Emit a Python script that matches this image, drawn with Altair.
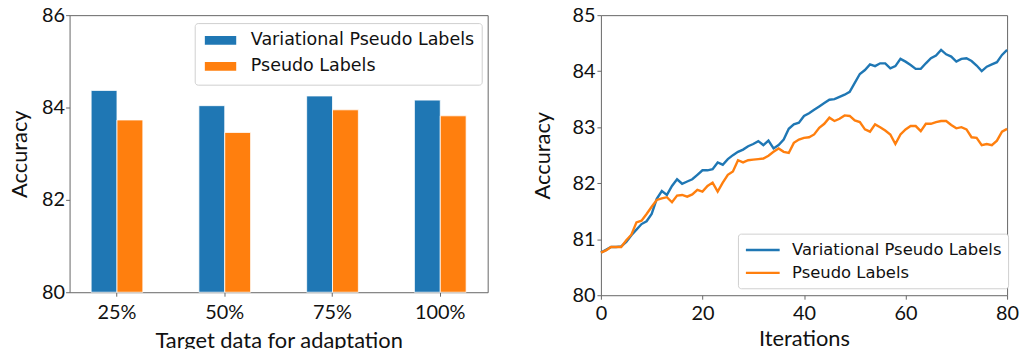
import altair as alt
import pandas as pd

# ---------------- data ----------------
series = ["Variational Pseudo Labels", "Pseudo Labels"]
colors = ["#1f77b4", "#ff7f0e"]

cats = ["25%", "50%", "75%", "100%"]
bar_vpl = [84.37, 84.04, 84.25, 84.16]
bar_pl = [83.73, 83.46, 83.95, 83.82]

iters = list(range(0, 81))
line_vpl = [80.76, 80.81, 80.86, 80.86, 80.87, 80.95, 81.07, 81.17, 81.27, 81.32,
            81.45, 81.72, 81.86, 81.79, 81.95, 82.07, 81.99, 82.03, 82.07, 82.15,
            82.23, 82.23, 82.25, 82.37, 82.33, 82.43, 82.50, 82.56, 82.60, 82.66,
            82.70, 82.75, 82.68, 82.76, 82.62, 82.68, 82.78, 82.97, 83.05, 83.08,
            83.20, 83.25, 83.31, 83.37, 83.43, 83.49, 83.50, 83.54, 83.58, 83.63,
            83.79, 83.95, 84.02, 84.12, 84.09, 84.14, 84.14, 84.05, 84.09, 84.22,
            84.17, 84.11, 84.04, 84.04, 84.14, 84.23, 84.28, 84.38, 84.30, 84.26,
            84.17, 84.22, 84.23, 84.18, 84.10, 84.00, 84.08, 84.12, 84.16, 84.29,
            84.38]
line_pl = [80.76, 80.80, 80.86, 80.86, 80.86, 80.98, 81.08, 81.30, 81.33, 81.45,
           81.58, 81.70, 81.73, 81.75, 81.66, 81.78, 81.79, 81.76, 81.80, 81.88,
           81.85, 81.95, 82.01, 81.85, 82.01, 82.15, 82.21, 82.41, 82.37, 82.41,
           82.42, 82.43, 82.44, 82.49, 82.56, 82.62, 82.56, 82.54, 82.72, 82.78,
           82.81, 82.82, 82.87, 82.99, 83.06, 83.17, 83.11, 83.15, 83.21, 83.20,
           83.12, 83.09, 82.96, 82.92, 83.05, 83.00, 82.94, 82.87, 82.70, 82.87,
           82.96, 83.02, 83.02, 82.93, 83.06, 83.06, 83.09, 83.11, 83.11, 83.04,
           82.98, 83.00, 82.96, 82.82, 82.81, 82.68, 82.70, 82.68, 82.76, 82.92,
           82.97]

bar_df = pd.DataFrame({
    "target": cats * 2,
    "series": [series[0]] * 4 + [series[1]] * 4,
    "acc": bar_vpl + bar_pl,
})
line_df = pd.DataFrame({
    "iter": iters * 2,
    "series": [series[0]] * len(iters) + [series[1]] * len(iters),
    "acc": line_vpl + line_pl,
})

TICK_FONT = "Lato"
LEG_FONT = "DejaVu Sans"
FRAME = "#666666"

color_scale = alt.Scale(domain=series, range=colors)


def legend(x, y, symbol, size, pad, offset):
    return alt.Legend(
        title=None, orient="none", legendX=x, legendY=y,
        fillColor="white", strokeColor="#d0d0d0", cornerRadius=3,
        padding=pad, rowPadding=4, labelFont=LEG_FONT, labelFontSize=size,
        labelColor="#111111", labelOffset=offset, symbolType=symbol,
        symbolSize=289, symbolStrokeWidth=2.4, labelLimit=400,
    )


# ---------------- bar chart ----------------
bars = alt.Chart(bar_df).mark_bar(stroke="white", strokeWidth=0.8).encode(
    x=alt.X("target:N", sort=cats,
            scale=alt.Scale(paddingInner=0.52, paddingOuter=0.2),
            axis=alt.Axis(title="Target data for adaptation", labelAngle=0,
                          labelPadding=6, titlePadding=9)),
    xOffset=alt.XOffset("series:N", sort=series),
    y=alt.Y("acc:Q", scale=alt.Scale(domain=[80, 86], nice=False, zero=False),
            axis=alt.Axis(title="Accuracy", values=[80, 82, 84, 86],
                          labelPadding=1, titlePadding=10)),
    y2=alt.datum(80),
    color=alt.Color("series:N", sort=series, scale=color_scale,
                    legend=legend(126, 8, "M-1,-0.66H3V0.66H-1Z", 17.6, 7.5, 29)),
).properties(width=421, height=279)

# ---------------- line chart ----------------
lines = alt.Chart(line_df).mark_line(strokeWidth=2.4).encode(
    x=alt.X("iter:Q", scale=alt.Scale(domain=[0, 80], nice=False),
            axis=alt.Axis(title="Iterations", values=[0, 20, 40, 60, 80],
                          labelPadding=4, titlePadding=6)),
    y=alt.Y("acc:Q", scale=alt.Scale(domain=[80, 85], nice=False, zero=False),
            axis=alt.Axis(title="Accuracy", values=[80, 81, 82, 83, 84, 85],
                          labelPadding=2, titlePadding=18)),
    color=alt.Color("series:N", sort=series, scale=color_scale,
                    legend=legend(138, 220, "M-1,0H3", 16.5, 6.5, 28)),
).properties(width=409, height=282)

chart = alt.hconcat(bars, lines, spacing=42).resolve_scale(
    color="independent"
).resolve_legend(color="independent").properties(
    padding={"left": 0, "top": -5, "right": 0, "bottom": 0}
).configure_view(
    stroke=FRAME, strokeWidth=1
).configure_axis(
    grid=False, domain=False, tickColor=FRAME, tickSize=4, tickWidth=1,
    labelFont=TICK_FONT, labelFontSize=20, labelColor="#111111",
    titleFont=TICK_FONT, titleFontSize=22, titleFontWeight="normal",
    titleColor="#111111", labelFlush=False, labelOverlap=False,
)

chart.save("out.html", embed_options={"renderer": "svg", "actions": False})
